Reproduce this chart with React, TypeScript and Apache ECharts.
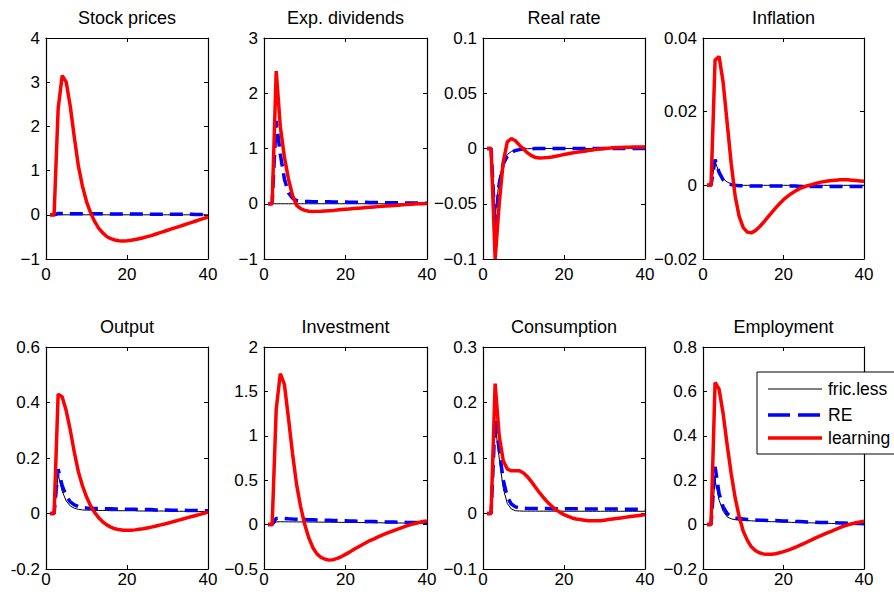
import React, { useEffect, useRef } from "react";
import * as echarts from "echarts";

const periods = [1,2,3,4,5,6,7,8,9,10,11,12,13,14,15,16,17,18,19,20,21,22,23,24,25,26,27,28,29,30,31,32,33,34,35,36,37,38,39,40];

const seriesNames = ["fric.less", "RE", "learning"];
const panelTitles = ["Stock prices", "Exp. dividends", "Real rate", "Inflation", "Output", "Investment", "Consumption", "Employment"];
const yMins = [-1, -1, -0.1, -0.02, -0.2, -0.5, -0.1, -0.2];
const yMaxs = [4, 3, 0.1, 0.04, 0.6, 2, 0.3, 0.8];
const yIntervals = [1, 1, 0.05, 0.02, 0.2, 0.5, 0.1, 0.2];
const xTicks = [0, 20, 40];

const stockBlack = [0,0,0,0,0,0,0,0,0,0, 0,0,0,0,0,0,0,0,0,0, 0,0,0,0,0,0,0,0,0,0, 0,0,0,0,0,0,0,0,0,0];
const stockBlue = [0,0,0.03,0.028,0.026,0.025,0.024,0.024,0.023,0.023, 0.022,0.022,0.021,0.021,0.02,0.02,0.019,0.019,0.018,0.018, 0.017,0.017,0.016,0.016,0.015,0.015,0.014,0.014,0.013,0.013, 0.012,0.012,0.011,0.011,0.01,0.01,0.009,0.009,0.008,0.008];
const stockRed = [0,0,2.4,3.15,3.0,2.45,1.75,1.1,0.65,0.3, 0.05,-0.15,-0.3,-0.41,-0.49,-0.54,-0.57,-0.585,-0.59,-0.585, -0.575,-0.56,-0.54,-0.52,-0.495,-0.47,-0.44,-0.41,-0.38,-0.35, -0.32,-0.29,-0.26,-0.23,-0.2,-0.17,-0.14,-0.11,-0.08,-0.05];

const divBlack = [0,0,0,0,0,0,0,0,0,0, 0,0,0,0,0,0,0,0,0,0, 0,0,0,0,0,0,0,0,0,0, 0,0,0,0,0,0,0,0,0,0];
const divBlue = [0,0,1.5,0.9,0.45,0.2,0.1,0.06,0.048,0.042, 0.04,0.038,0.037,0.036,0.035,0.034,0.033,0.032,0.031,0.03, 0.029,0.028,0.027,0.026,0.025,0.024,0.023,0.022,0.021,0.02, 0.019,0.018,0.017,0.016,0.015,0.014,0.013,0.012,0.011,0.01];
const divRed = [0,0,2.4,1.4,0.85,0.45,0.15,-0.03,-0.09,-0.12, -0.135,-0.14,-0.138,-0.135,-0.13,-0.125,-0.12,-0.113,-0.106,-0.1, -0.094,-0.088,-0.082,-0.076,-0.07,-0.064,-0.058,-0.052,-0.046,-0.04, -0.035,-0.03,-0.025,-0.02,-0.015,-0.01,-0.006,-0.002,0.002,0.005];

const realBlack = [0,0,-0.062,-0.028,-0.012,-0.0055,-0.0027,-0.0013,-0.0007,-0.0003, -0.0002,-0.0001,0,0,0,0,0,0,0,0, 0,0,0,0,0,0,0,0,0,0, 0,0,0,0,0,0,0,0,0,0];
const realBlue = [0,0,-0.07,-0.032,-0.014,-0.007,-0.0035,-0.0018,-0.001,-0.0005, -0.0003,-0.0002,-0.0001,-0.0001,0,0,0,0,0,0, 0,0,0,0,0,0,0,0,0,0, 0,0,0,0,0,0,0,0,0,0];
const realRed = [0,0,-0.1,-0.05,-0.012,0.006,0.009,0.007,0.003,-0.0005, -0.004,-0.0065,-0.0082,-0.0085,-0.0084,-0.0081,-0.0076,-0.007,-0.0062,-0.0055, -0.0048,-0.0041,-0.0035,-0.0029,-0.0024,-0.0018,-0.0013,-0.0008,-0.0004,0, 0.0003,0.0006,0.0008,0.001,0.0011,0.0012,0.0013,0.0013,0.0014,0.0014];

const inflBlack = [0,0,0.0065,0.0035,0.0018,0.0009,0.0004,0.0002,0.0001,0, 0,0,0,0,0,0,0,0,0,0, 0,0,0,0,0,0,0,0,0,0, 0,0,0,0,0,0,0,0,0,0];
const inflBlue = [0,0,0.007,0.0035,0.0015,0.0006,0.0002,0,-0.0001,-0.0001, -0.0001,-0.0002,-0.0002,-0.0002,-0.0002,-0.0002,-0.0002,-0.0002,-0.0002,-0.0002, -0.0002,-0.0002,-0.0002,-0.0003,-0.0003,-0.0003,-0.0003,-0.0003,-0.0003,-0.0003, -0.0003,-0.0003,-0.0003,-0.0003,-0.0003,-0.0003,-0.0003,-0.0003,-0.0003,-0.0003];
const inflRed = [0,0,0.034,0.035,0.028,0.017,0.006,-0.003,-0.0085,-0.0115, -0.0127,-0.0129,-0.0123,-0.0113,-0.0101,-0.0088,-0.0075,-0.0062,-0.005,-0.0039, -0.003,-0.0022,-0.0015,-0.0009,-0.0005,-0.0001,0.0002,0.0005,0.0008,0.001, 0.0012,0.0013,0.0014,0.0015,0.0015,0.0015,0.0014,0.0013,0.0012,0.0011];

const outBlack = [0,0,0.14,0.08,0.045,0.027,0.019,0.015,0.013,0.012, 0.012,0.011,0.011,0.011,0.011,0.01,0.01,0.01,0.01,0.01, 0.01,0.01,0.009,0.009,0.009,0.009,0.009,0.009,0.009,0.008, 0.008,0.008,0.008,0.008,0.008,0.008,0.007,0.007,0.007,0.007];
const outBlue = [0,0,0.16,0.1,0.062,0.042,0.031,0.025,0.022,0.02, 0.019,0.018,0.018,0.017,0.017,0.017,0.016,0.016,0.016,0.015, 0.015,0.015,0.014,0.014,0.014,0.014,0.013,0.013,0.013,0.013, 0.012,0.012,0.012,0.012,0.011,0.011,0.011,0.011,0.01,0.01];
const outRed = [0,0,0.43,0.42,0.37,0.3,0.22,0.15,0.1,0.06, 0.028,0.004,-0.015,-0.03,-0.041,-0.049,-0.055,-0.058,-0.06,-0.06, -0.06,-0.059,-0.057,-0.055,-0.052,-0.049,-0.046,-0.042,-0.039,-0.035, -0.031,-0.027,-0.023,-0.019,-0.015,-0.011,-0.007,-0.003,0.001,0.005];

const invBlack = [0,0,0.03,0.032,0.032,0.031,0.031,0.03,0.03,0.03, 0.029,0.029,0.028,0.028,0.027,0.027,0.026,0.026,0.025,0.025, 0.024,0.024,0.023,0.023,0.022,0.022,0.021,0.021,0.02,0.02, 0.019,0.019,0.018,0.018,0.017,0.017,0.016,0.016,0.015,0.015];
const invBlue = [0,0,0.07,0.075,0.07,0.066,0.063,0.061,0.059,0.057, 0.055,0.054,0.052,0.051,0.049,0.048,0.047,0.045,0.044,0.043, 0.041,0.04,0.039,0.037,0.036,0.035,0.034,0.032,0.031,0.03, 0.029,0.028,0.027,0.026,0.025,0.024,0.023,0.022,0.021,0.02];
const invRed = [0,0,1.3,1.7,1.58,1.2,0.8,0.45,0.2,0, -0.15,-0.26,-0.33,-0.37,-0.39,-0.4,-0.395,-0.38,-0.36,-0.335, -0.31,-0.28,-0.255,-0.23,-0.205,-0.18,-0.16,-0.138,-0.118,-0.1, -0.082,-0.065,-0.048,-0.032,-0.015,0,0.012,0.024,0.034,0.042];

const consBlack = [0,0,0.16,0.1,0.045,0.018,0.008,0.005,0.0045,0.0043, 0.0043,0.0043,0.0043,0.0042,0.0042,0.0042,0.0042,0.0042,0.0042,0.0041, 0.0041,0.0041,0.0041,0.0041,0.0041,0.004,0.004,0.004,0.004,0.004, 0.004,0.004,0.004,0.004,0.004,0.004,0.004,0.004,0.004,0.004];
const consBlue = [0,0,0.17,0.115,0.06,0.03,0.017,0.012,0.01,0.0095, 0.009,0.009,0.009,0.009,0.0088,0.0088,0.0087,0.0087,0.0086,0.0086, 0.0085,0.0085,0.0084,0.0084,0.0083,0.0083,0.0082,0.0082,0.0081,0.0081, 0.008,0.008,0.0079,0.0079,0.0078,0.0078,0.0077,0.0077,0.0076,0.0076];
const consRed = [0,0,0.234,0.14,0.095,0.08,0.077,0.077,0.077,0.073, 0.066,0.057,0.047,0.037,0.028,0.02,0.013,0.007,0.002,-0.002, -0.005,-0.008,-0.01,-0.011,-0.012,-0.013,-0.013,-0.013,-0.013,-0.012, -0.011,-0.01,-0.009,-0.008,-0.007,-0.006,-0.005,-0.004,-0.003,-0.002];

const empBlack = [0,0,0.2,0.11,0.06,0.035,0.026,0.022,0.02,0.019, 0.018,0.017,0.016,0.015,0.015,0.014,0.013,0.013,0.012,0.011, 0.011,0.01,0.01,0.009,0.009,0.008,0.008,0.007,0.007,0.006, 0.006,0.005,0.005,0.005,0.004,0.004,0.004,0.003,0.003,0.003];
const empBlue = [0,0,0.26,0.14,0.08,0.05,0.036,0.03,0.027,0.025, 0.023,0.022,0.021,0.02,0.02,0.019,0.018,0.018,0.017,0.016, 0.016,0.015,0.014,0.014,0.013,0.012,0.012,0.011,0.01,0.01, 0.009,0.008,0.008,0.007,0.007,0.006,0.006,0.005,0.005,0.004];
const empRed = [0,0,0.64,0.61,0.5,0.36,0.23,0.12,0.035,-0.03, -0.07,-0.1,-0.117,-0.127,-0.132,-0.134,-0.134,-0.131,-0.127,-0.122, -0.116,-0.109,-0.102,-0.094,-0.086,-0.077,-0.069,-0.06,-0.052,-0.044, -0.036,-0.029,-0.021,-0.014,-0.007,-0.001,0.004,0.008,0.012,0.015];

const blackData = [stockBlack, divBlack, realBlack, inflBlack, outBlack, invBlack, consBlack, empBlack];
const blueData = [stockBlue, divBlue, realBlue, inflBlue, outBlue, invBlue, consBlue, empBlue];
const redData = [stockRed, divRed, realRed, inflRed, outRed, invRed, consRed, empRed];
const minusSigns = ["\u2212", "\u2212", "\u2212", "\u2212", "-", "\u2212", "\u2212", "\u2212"];

const FONT = '"Liberation Sans", Arial, Helvetica, sans-serif';
const colLeft = [46, 264, 483, 703];
const colWidth = [162, 163, 162, 161];
const rowTop = [38, 347];
const rowHeight = [221, 222];
const xLabelMargin = [7, 2];

function fmt(v: number, minus: string) {
  const r = Math.round(v * 1e6) / 1e6;
  const s = String(Math.abs(r));
  return r < 0 ? minus + s : s;
}

export default function App() {
  const ref = useRef<HTMLDivElement>(null);
  useEffect(() => {
    if (!ref.current) return;
    const chart = echarts.init(ref.current, null, { renderer: "svg" });
    const grids: any[] = [];
    const xAxes: any[] = [];
    const yAxes: any[] = [];
    const series: any[] = [];
    const graphics: any[] = [];
    panelTitles.forEach((title, i) => {
      const row = Math.floor(i / 4);
      const col = i % 4;
      const left = colLeft[col];
      const top = rowTop[row];
      const w = colWidth[col];
      const h = rowHeight[row];
      grids.push({ left, top, width: w, height: h, containLabel: false });
      const axisLine = { show: true, onZero: false, lineStyle: { color: "#000", width: 1.2 } };
      const tick = { show: true, inside: true, length: 4, lineStyle: { color: "#000", width: 1 } };
      xAxes.push({
        type: "value", gridIndex: i, position: "bottom", min: 0, max: 40, interval: 20,
        axisLine, axisTick: tick, splitLine: { show: false },
        axisLabel: { show: true, margin: xLabelMargin[row], color: "#000", fontSize: 17, fontFamily: FONT,
          formatter: (v: number) => (xTicks.includes(v) ? String(v) : "") },
      });
      xAxes.push({
        type: "value", gridIndex: i, position: "top", min: 0, max: 40, interval: 20,
        axisLine, axisTick: tick, splitLine: { show: false }, axisLabel: { show: false },
      });
      const minus = minusSigns[i];
      yAxes.push({
        type: "value", gridIndex: i, position: "left", min: yMins[i], max: yMaxs[i], interval: yIntervals[i],
        axisLine, axisTick: tick, splitLine: { show: false },
        axisLabel: { show: true, margin: 6, color: "#000", fontSize: 17, fontFamily: FONT,
          formatter: (v: number) => fmt(v, minus) },
      });
      yAxes.push({
        type: "value", gridIndex: i, position: "right", min: yMins[i], max: yMaxs[i], interval: yIntervals[i],
        axisLine, axisTick: tick, splitLine: { show: false }, axisLabel: { show: false },
      });
      const mk = (arr: number[]) => periods.map((t, k) => [t, arr[k]]);
      series.push({
        type: "line", name: seriesNames[0], xAxisIndex: 2 * i, yAxisIndex: 2 * i, data: mk(blackData[i]),
        symbol: "none", lineStyle: { color: "#000", width: 1 }, z: 2,
      });
      series.push({
        type: "line", name: seriesNames[1], xAxisIndex: 2 * i, yAxisIndex: 2 * i, data: mk(blueData[i]),
        symbol: "none", lineStyle: { color: "#0000ff", width: 3.5, type: [13, 7] }, z: 3,
      });
      series.push({
        type: "line", name: seriesNames[2], xAxisIndex: 2 * i, yAxisIndex: 2 * i, data: mk(redData[i]),
        symbol: "none", lineStyle: { color: "#ff0000", width: 3.5 }, z: 4,
      });
      graphics.push({
        type: "text", x: left + w / 2, y: row === 0 ? 18 : 327,
        style: { text: title, fill: "#000", font: `18px ${FONT}`, align: "center", verticalAlign: "middle",
          textAlign: "center", textVerticalAlign: "middle" },
      });
    });

    // legend box (inside Employment panel)
    const legX = 757, legY = 372;
    graphics.push({ type: "rect", z: 100, shape: { x: legX, y: legY, width: 170, height: 82 },
      style: { fill: "#fff", stroke: "#000", lineWidth: 1 } });
    const rows = [389, 415, 438];
    const legStyles = [
      { stroke: "#000", lineWidth: 1 },
      { stroke: "#0000ff", lineWidth: 3.5, lineDash: [22, 8] },
      { stroke: "#ff0000", lineWidth: 3.5 },
    ];
    rows.forEach((y, k) => {
      graphics.push({ type: "line", z: 101, shape: { x1: 768, y1: y, x2: 822, y2: y }, style: legStyles[k] });
      graphics.push({ type: "text", z: 101, x: 828, y,
        style: { text: seriesNames[k], fill: "#000", font: `17.5px ${FONT}`, align: "left", verticalAlign: "middle",
          textAlign: "left", textVerticalAlign: "middle" } });
    });

    chart.setOption({
      animation: false,
      backgroundColor: "#fff",
      textStyle: { fontFamily: FONT },
      grid: grids,
      xAxis: xAxes,
      yAxis: yAxes,
      series,
      graphic: graphics,
    });
    return () => chart.dispose();
  }, []);
  return <div ref={ref} style={{ position: "absolute", left: 0, top: 0, width: 894, height: 597 }} />;
}
